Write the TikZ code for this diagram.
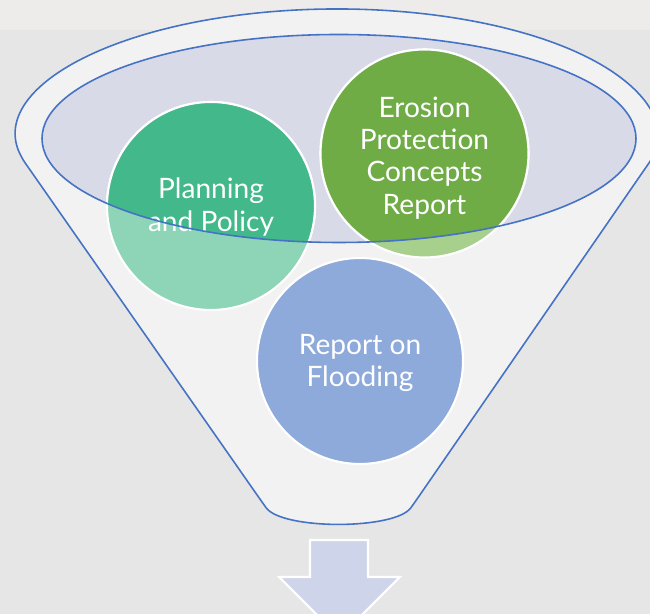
\documentclass[tikz,border=0pt]{standalone}
\usepackage{fontspec}
\setmainfont{Lato}
\definecolor{bglow}{HTML}{E6E6E6}
\definecolor{bgtop}{HTML}{EDECEA}
\definecolor{funnelfill}{HTML}{F2F2F2}
\definecolor{innerfill}{HTML}{D8DAE7}
\definecolor{lineblue}{HTML}{4472C4}
\definecolor{greenA}{HTML}{43B88A}
\definecolor{greenAlight}{HTML}{8ED5B8}
\definecolor{greenB}{HTML}{6FAC46}
\definecolor{greenBlight}{HTML}{A8D08D}
\definecolor{blueC}{HTML}{8EAADB}
\definecolor{arrowfill}{HTML}{CED4EA}
\newcommand\FunnelShape{(141.5,284.5) -- (21,457) arc[start angle=189, end angle=-9, x radius=320, y radius=128] -- (415,112) .. controls (395,84) and (282,84) .. (262,112) -- cycle}
\newcommand\InnerShape{(339,475.5) ellipse [x radius=297, y radius=104]}
\tikzset{
  bubble/.style={draw=white, line width=1.2pt},
  outline/.style={draw=lineblue, line width=0.9pt},
  label/.style={text=white, align=center, font=\fontsize{16}{18.3}\selectfont, inner sep=0pt}
}
\begin{document}
\begin{tikzpicture}[x=0.02cm, y=0.02cm]
\useasboundingbox (0,0) rectangle (650,614);
\clip (0,0) rectangle (650,614);
\fill[bglow] (0,0) rectangle (650,614);
\fill[bgtop] (0,584) rectangle (650,614);
% funnel body
\fill[funnelfill, rounded corners=4pt] \FunnelShape;
\fill[innerfill] \InnerShape;
% circles (light parts)
\path[bubble, fill=greenAlight] (211,408) circle[radius=104];
\path[bubble, fill=greenBlight] (424.5,460.5) circle[radius=104];
\path[bubble, fill=blueC] (360,253) circle[radius=103];
% circles (parts inside the inner ellipse)
\begin{scope}
  \clip \InnerShape;
  \path[bubble, fill=greenA] (211,408) circle[radius=104];
  \path[bubble, fill=greenB] (424.5,460.5) circle[radius=104];
\end{scope}
% texts
\node[label] (plan) at (211,407) {Planning\\and Policy};
\node[label] (eros) at (424.5,456) {Erosion\\Protection\\Concepts\\Report};
\node[label] (flood) at (360,251) {Report on\\Flooding};
% outlines
\path[outline, rounded corners=4pt] \FunnelShape;
\path[outline] \InnerShape;
% arrow
\path[draw=white, line width=1.2pt, fill=arrowfill] (310,74) -- (368,74) -- (368,37) -- (400,37) -- (339.5,-23.5) -- (279,37) -- (310,37) -- cycle;
\end{tikzpicture}
\end{document}
